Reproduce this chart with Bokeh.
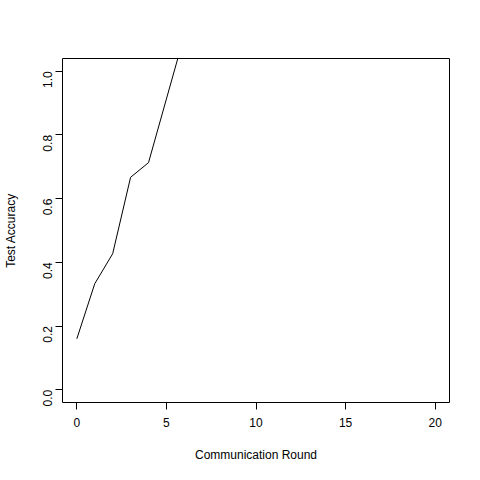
from bokeh.plotting import figure
from bokeh.models import Range1d, FixedTicker
from bokeh.embed import file_html
from bokeh.resources import INLINE

rounds = [0, 1, 2, 3, 4, 5, 6]
accuracy = [0.16, 0.333, 0.427, 0.667, 0.713, 0.913, 1.113]

p = figure(width=464, height=464, output_backend="svg", toolbar_location=None,
           x_range=Range1d(-0.8, 20.8), y_range=Range1d(-0.04, 1.04),
           min_border_left=51, min_border_right=15, min_border_top=58, min_border_bottom=58)
p.line(rounds, accuracy, color="black", line_width=1)

p.xgrid.visible = False
p.ygrid.visible = False
p.outline_line_color = "black"
p.outline_line_alpha = 1
p.background_fill_color = "white"
p.border_fill_color = "white"

p.xaxis.ticker = FixedTicker(ticks=[0, 5, 10, 15, 20])
p.yaxis.ticker = FixedTicker(ticks=[0.0, 0.2, 0.4, 0.6, 0.8, 1.0])
p.xaxis.bounds = (0, 20)
p.yaxis.bounds = (0, 1)
p.yaxis.major_label_overrides = {0.0: "0.0", 0.2: "0.2", 0.4: "0.4", 0.6: "0.6", 0.8: "0.8", 1.0: "1.0"}
p.yaxis.major_label_orientation = 1.5708
p.xaxis.axis_label = "Communication Round"
p.yaxis.axis_label = "Test Accuracy"
for ax in (p.xaxis[0], p.yaxis[0]):
    ax.minor_tick_line_color = None
    ax.major_tick_out = 7
    ax.major_tick_in = 0
    ax.axis_line_color = "black"
    ax.major_tick_line_color = "black"
    ax.major_label_text_font = "Liberation Sans"
    ax.major_label_text_font_size = "12px"
    ax.major_label_text_color = "black"
    ax.axis_label_text_font = "Liberation Sans"
    ax.axis_label_text_font_size = "12px"
    ax.axis_label_text_font_style = "normal"
    ax.axis_label_text_color = "black"
    ax.major_label_standoff = 8
p.xaxis.axis_label_standoff = 18
p.yaxis.axis_label_standoff = 18

open("out.html", "w").write(file_html(p, INLINE))
